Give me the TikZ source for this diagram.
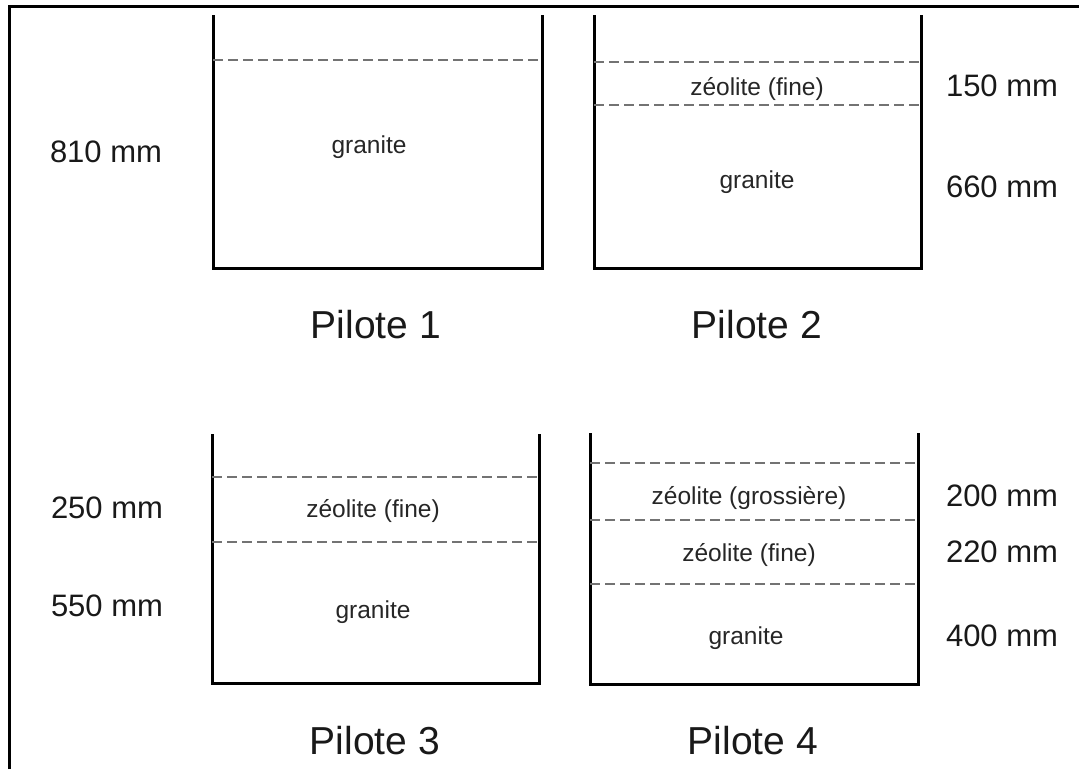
\documentclass[tikz,border=0pt]{standalone}
\usepackage{fontspec}
\setmainfont{Liberation Sans}
\begin{document}
\begin{tikzpicture}[x=1pt,y=-1pt,
  wall/.style={line width=3pt,line join=miter},
  layer/.style={line width=1.8pt,black!55,dash pattern=on 10pt off 5pt},
  matl/.style={anchor=base,font=\fontsize{24.5}{28}\selectfont,text=black!85},
  depth/.style={anchor=base,font=\fontsize{31}{36}\selectfont,text=black!90},
  pilot/.style={anchor=base,font=\fontsize{39}{45}\selectfont,text=black!90}]
\useasboundingbox (0,0) rectangle (1079,769);
\draw[line width=3pt] (9,769) -- (9,6) -- (1079,6);

% Pilote 1
\draw[wall] (213,15) -- (213,268) -- (542,268) -- (542,15);
\draw[layer] (213,60) -- (542,60);
\node[matl] (g1) at (369,153) {granite};
\node[depth] (d1) at (106,162) {810 mm};
\node[pilot] (p1) at (376,338) {Pilote 1};

% Pilote 2
\draw[wall] (594,15) -- (594,268) -- (921,268) -- (921,15);
\draw[layer] (594,62) -- (921,62);
\draw[layer] (594,105) -- (921,105);
\node[matl] (z2) at (757,95) {zéolite (fine)};
\node[matl] (g2) at (757,188) {granite};
\node[depth] (d2a) at (1002,96) {150 mm};
\node[depth] (d2b) at (1002,197) {660 mm};
\node[pilot] (p2) at (757,338) {Pilote 2};

% Pilote 3
\draw[wall] (212,434) -- (212,683) -- (539,683) -- (539,434);
\draw[layer] (212,477) -- (539,477);
\draw[layer] (212,542) -- (539,542);
\node[matl] (z3) at (373,517) {zéolite (fine)};
\node[matl] (g3) at (373,618) {granite};
\node[depth] (d3a) at (107,518) {250 mm};
\node[depth] (d3b) at (107,616) {550 mm};
\node[pilot] (p3) at (375,754) {Pilote 3};

% Pilote 4
\draw[wall] (590,433) -- (590,684) -- (918,684) -- (918,433);
\draw[layer] (590,463) -- (918,463);
\draw[layer] (590,520) -- (918,520);
\draw[layer] (590,584) -- (918,584);
\node[matl] (zg4) at (749,504) {zéolite (grossière)};
\node[matl] (zf4) at (749,561) {zéolite (fine)};
\node[matl] (g4) at (746,644) {granite};
\node[depth] (d4a) at (1002,506) {200 mm};
\node[depth] (d4b) at (1002,562) {220 mm};
\node[depth] (d4c) at (1002,646) {400 mm};
\node[pilot] (p4) at (753,754) {Pilote 4};
\end{tikzpicture}
\end{document}
